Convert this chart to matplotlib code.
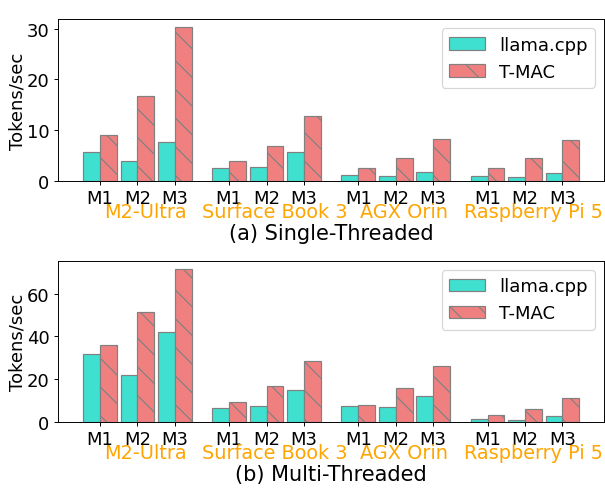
import numpy as np
import matplotlib
matplotlib.use("Agg")
import matplotlib.pyplot as plt

devices = ["M2-Ultra", "Surface Book 3", "AGX Orin", "Raspberry Pi 5"]
models = ["M1", "M2", "M3"]

# tokens/sec, one row per device, columns M1..M3
llama_single = [[5.7, 3.8, 7.6], [2.5, 2.7, 5.7], [1.05, 0.85, 1.65], [0.85, 0.65, 1.45]]
tmac_single = [[9.0, 16.7, 30.3], [3.8, 6.85, 12.7], [2.45, 4.4, 8.2], [2.45, 4.4, 8.0]]
llama_multi = [[31.6, 22.0, 42.2], [6.4, 7.3, 14.8], [7.3, 6.85, 12.3], [1.6, 1.1, 2.65]]
tmac_multi = [[35.8, 51.2, 71.5], [9.2, 16.8, 28.5], [8.1, 15.7, 26.0], [3.3, 5.9, 11.1]]

titles = ["(a) Single-Threaded", "(b) Multi-Threaded"]

GROUP_STEP = 3.45
WIDTH = 0.45
DPI = 86.4


def draw_panel(ax, llama, tmac, title):
    pos = np.array([g * GROUP_STEP + i for g in range(len(devices)) for i in range(len(models))])
    ax.bar(pos, np.ravel(llama), width=-WIDTH, align="edge", color="turquoise",
           edgecolor="grey", linewidth=1, label="llama.cpp")
    ax.bar(pos, np.ravel(tmac), width=WIDTH, align="edge", color="lightcoral",
           edgecolor="grey", linewidth=1, hatch="\\", label="T-MAC")

    ax.set_xticks(pos)
    ax.set_xticklabels(models * len(devices), fontsize=15)
    ax.tick_params(axis="y", labelsize=15)
    ax.set_ylabel("Tokens/sec", fontsize=15, labelpad=0)
    ax.set_xlim(-1.12, (len(devices) - 1) * GROUP_STEP + 2 + 1.11)
    ax.set_ylim(bottom=0)
    ax.legend(loc="upper right", fontsize=15)

    # device names under the model ticks
    for g, name in enumerate(devices):
        ax.text(g * GROUP_STEP + 1 + WIDTH / 2, -0.227, name, color="orange", fontsize=16,
                ha="center", va="baseline", transform=ax.get_xaxis_transform())
    ax.text(0.5, -0.362, title, fontsize=17.4, ha="center", va="baseline", transform=ax.transAxes)


fig = plt.figure(figsize=(605 / DPI, 489 / DPI), dpi=DPI)
ax1 = fig.add_axes([0.0959, 0.6284, 0.9024, 0.3300])
ax2 = fig.add_axes([0.0959, 0.1350, 0.9024, 0.3286])

draw_panel(ax1, llama_single, tmac_single, titles[0])
draw_panel(ax2, llama_multi, tmac_multi, titles[1])

fig.savefig("out.png", dpi=DPI)
